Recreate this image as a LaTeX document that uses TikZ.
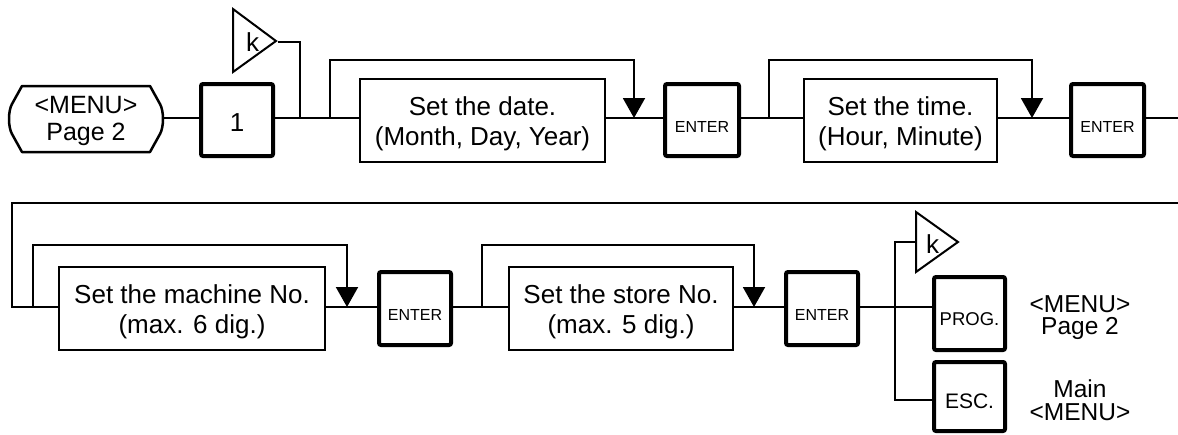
\documentclass[tikz,border=0pt]{standalone}
\usepackage{fontspec}
\setmainfont{Liberation Sans}
\usetikzlibrary{arrows.meta}
\newcommand{\hs}[1]{\rule{0pt}{#1}}
\newcommand{\ds}[1]{\rule[-#1]{0pt}{#1}}
\begin{document}
\begin{tikzpicture}[x=1pt,y=-1pt,
  conn/.style={line width=2pt},
  arr/.style={-{Triangle[width=22pt,length=20pt]}},
  thinbox/.style={draw,line width=2pt,inner sep=0pt,align=center,font=\fontsize{26}{30}\selectfont},
  keybox/.style={draw,line width=4pt,rounded corners=2pt,inner sep=0pt,align=center},
  enterkey/.style={keybox,font=\fontsize{16}{16}\selectfont,text height=26pt,text depth=1.5pt},
  kmark/.style={draw,line width=2pt,line join=miter},
  ktext/.style={inner sep=0pt,font=\fontsize{26}{26}\selectfont},
  sidelabel/.style={inner sep=0pt,align=center,font=\fontsize{24.5}{22.5}\selectfont}]
\useasboundingbox (0,0) rectangle (1178,434);

% ---------- row coordinates ----------
\coordinate (rowA) at (0,118);
\coordinate (topA) at (0,60);
\coordinate (rowB) at (0,307);
\coordinate (topB) at (0,245);
\coordinate (escrow) at (0,400);

% ---------- top row ----------
\draw[line width=2.5pt,line join=round]
  (22,86) -- (150,86) -- (160,104) .. controls (164,111) and (164,127) .. (160,134)
  -- (150,152) -- (22,152) -- (12,134) .. controls (8,127) and (8,111) .. (12,104) -- cycle;
\node[inner sep=0pt,minimum width=155pt,minimum height=66pt,align=center,
      font=\fontsize{25}{27}\selectfont] (menu) at (86,119)
      {\hs{22pt}<MENU>\\Page 2\ds{7pt}};

\node[keybox,minimum width=72pt,minimum height=72pt,font=\fontsize{26}{26}\selectfont,
      text height=25pt,text depth=1.6pt] (one) at (237,120) {1};

\draw[kmark] (233,9) -- (233,72) -- (276,41) -- cycle;
\node[ktext,text height=20pt,text depth=0.6pt] (k1) at (252.5,42) {k};
\coordinate (k1tip) at (278,41.5);
\coordinate (j1) at (300,118);

\node[thinbox,minimum width=245pt,minimum height=83pt] (date) at (482.5,120.5)
  {\hs{26.4pt}Set the date.\\(Month, Day, Year)\ds{7pt}};
\node[enterkey,minimum width=74pt,minimum height=72pt] (enter1) at (702,120) {ENTER};
\node[thinbox,minimum width=193pt,minimum height=83pt] (time) at (900.5,120.5)
  {\hs{26.4pt}Set the time.\\(Hour, Minute)\ds{7pt}};
\node[enterkey,minimum width=73pt,minimum height=72pt] (enter2) at (1107.5,120) {ENTER};

\coordinate (l1a) at (330,118);
\coordinate (l1b) at (634,118);
\coordinate (l2a) at (769,118);
\coordinate (l2b) at (1032,118);
\coordinate (rightA) at (1180,118);

\draw[conn] (menu.east |- rowA) -- (one.west |- rowA);
\draw[conn] (one.east |- rowA) -- (date.west |- rowA);
\draw[conn] (k1tip) -- (j1 |- k1tip) -- (j1);
\draw[conn,arr] (l1a) -- (l1a |- topA) -- (l1b |- topA) -- (l1b);
\draw[conn] (date.east |- rowA) -- (enter1.west |- rowA);
\draw[conn] (enter1.east |- rowA) -- (time.west |- rowA);
\draw[conn,arr] (l2a) -- (l2a |- topA) -- (l2b |- topA) -- (l2b);
\draw[conn] (time.east |- rowA) -- (enter2.west |- rowA);
\draw[conn] (enter2.east |- rowA) -- (rightA);

% ---------- bottom row ----------
\node[thinbox,minimum width=266pt,minimum height=83pt] (mach) at (192,308.5)
  {\hs{26.4pt}Set the machine No.\\(max. 6 dig.)\ds{7pt}};
\node[enterkey,minimum width=72pt,minimum height=73pt] (enter3) at (415,308.5) {ENTER};
\node[thinbox,minimum width=224pt,minimum height=83pt] (store) at (621,308.5)
  {\hs{26.4pt}Set the store No.\\(max. 5 dig.)\ds{7pt}};
\node[enterkey,minimum width=72pt,minimum height=73pt] (enter4) at (822,308.5) {ENTER};

\node[keybox,minimum width=71pt,minimum height=73pt,font=\fontsize{18.5}{18.5}\selectfont,
      text height=26pt,text depth=1.5pt] (prog) at (969.5,313.5) {PROG.};
\node[keybox,minimum width=71pt,minimum height=69pt,font=\fontsize{21}{21}\selectfont,
      text height=25pt,text depth=1.4pt] (esc) at (969.5,396.5) {ESC.};

\draw[kmark] (916,212) -- (916,272) -- (958,242) -- cycle;
\node[ktext,text height=21.6pt,text depth=0pt] (k2) at (932.5,242.5) {k};
\coordinate (k2l) at (916,242);
\coordinate (j2) at (895,307);

\node[sidelabel] (lab1) at (1080,317.7) {\hs{19pt}<MENU>\\Page 2\ds{7pt}};
\node[sidelabel] (lab2) at (1080,403) {\hs{19pt}Main\\<MENU>\ds{7pt}};

\coordinate (rightB) at (1180,203);
\coordinate (leftB) at (12,203);
\coordinate (l3a) at (33,307);
\coordinate (l3b) at (347,307);
\coordinate (l4a) at (482,307);
\coordinate (l4b) at (754,307);

\draw[conn] (rightB) -- (leftB) -- (leftB |- rowB) -- (mach.west |- rowB);
\draw[conn,arr] (l3a) -- (l3a |- topB) -- (l3b |- topB) -- (l3b);
\draw[conn] (mach.east |- rowB) -- (enter3.west |- rowB);
\draw[conn] (enter3.east |- rowB) -- (store.west |- rowB);
\draw[conn,arr] (l4a) -- (l4a |- topB) -- (l4b |- topB) -- (l4b);
\draw[conn] (store.east |- rowB) -- (enter4.west |- rowB);
\draw[conn] (enter4.east |- rowB) -- (prog.west |- rowB);
\draw[conn] (k2l) -- (j2 |- k2l) -- (j2 |- escrow) -- (esc.west |- escrow);
\end{tikzpicture}
\end{document}
